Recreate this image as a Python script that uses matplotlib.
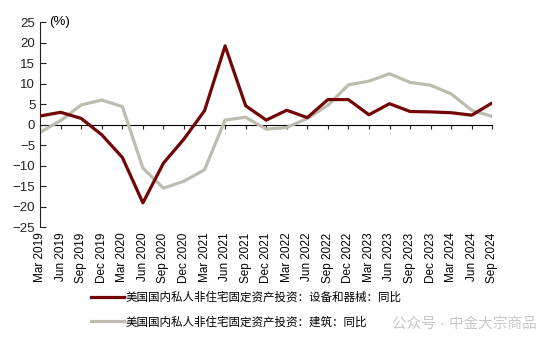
import matplotlib
matplotlib.use("Agg")
import matplotlib.pyplot as plt
import numpy as np

plt.rcParams["font.family"] = ["Liberation Sans", "Noto Sans CJK SC", "DejaVu Sans"]

quarters = ["Mar 2019", "Jun 2019", "Sep 2019", "Dec 2019", "Mar 2020", "Jun 2020",
            "Sep 2020", "Dec 2020", "Mar 2021", "Jun 2021", "Sep 2021", "Dec 2021",
            "Mar 2022", "Jun 2022", "Sep 2022", "Dec 2022", "Mar 2023", "Jun 2023",
            "Sep 2023", "Dec 2023", "Mar 2024", "Jun 2024", "Sep 2024"]
# equipment & machinery, yoy (%)
equipment = [2.1, 3.0, 1.5, -2.5, -8.0, -19.1, -9.4, -3.5, 3.4, 19.2, 4.6, 1.1,
             3.5, 1.7, 6.1, 6.1, 2.4, 5.1, 3.2, 3.1, 2.9, 2.3, 5.3]
# structures, yoy (%)
structures = [-1.9, 1.0, 4.8, 6.0, 4.4, -10.6, -15.5, -13.8, -11.0, 1.1, 1.8, -1.1,
              -0.7, 1.5, 4.7, 9.7, 10.6, 12.4, 10.3, 9.6, 7.5, 3.5, 2.0]

label_eq = "美国国内私人非住宅固定资产投资：设备和器械：同比"
label_st = "美国国内私人非住宅固定资产投资：建筑：同比"

red = "#720606"
grey = "#bdbcae"

fig = plt.figure(figsize=(5.5, 3.51), dpi=100)
ax = fig.add_axes([0.073, 0.353, 0.822, 0.584])

x = np.arange(len(quarters))
ax.plot(x, equipment, color=red, lw=2.3, label=label_eq, zorder=3)
ax.plot(x, structures, color=grey, lw=2.3, label=label_st, zorder=2)

ax.set_xlim(0, len(quarters) - 1)
ax.set_ylim(-25, 25)
ax.set_yticks(range(-25, 26, 5))
ax.tick_params(axis="y", direction="in", length=4, labelsize=9.5, colors="#222222")

ax.set_xticks(x)
ax.set_xticklabels(quarters, rotation=90, fontsize=8.5)
ax.tick_params(axis="x", length=0, pad=4)

for s in ["top", "right", "bottom"]:
    ax.spines[s].set_visible(False)
ax.spines["left"].set_color("#222222")

# zero line with its own tick marks
zero = ax.secondary_xaxis(0.5)
zero.set_xticks(x)
zero.set_xticklabels([])
zero.tick_params(direction="in", length=3, color="#222222")
zero.spines["bottom"].set_color("#222222")
zero.spines["bottom"].set_linewidth(1.0)

ax.text(0.02, 1.0, "(%)", transform=ax.transAxes, fontsize=9.5, va="center")

fig.legend(loc="lower left", bbox_to_anchor=(0.147, 0.035), frameon=False,
           fontsize=8.3, handlelength=2.8, handletextpad=0.2, labelspacing=1.1)

fig.text(0.975, 0.075, "公众号 · 中金大宗商品", ha="right", va="center",
         fontsize=10.5, color="#c8c8c8", zorder=0)

fig.savefig("out.png", dpi=100)
